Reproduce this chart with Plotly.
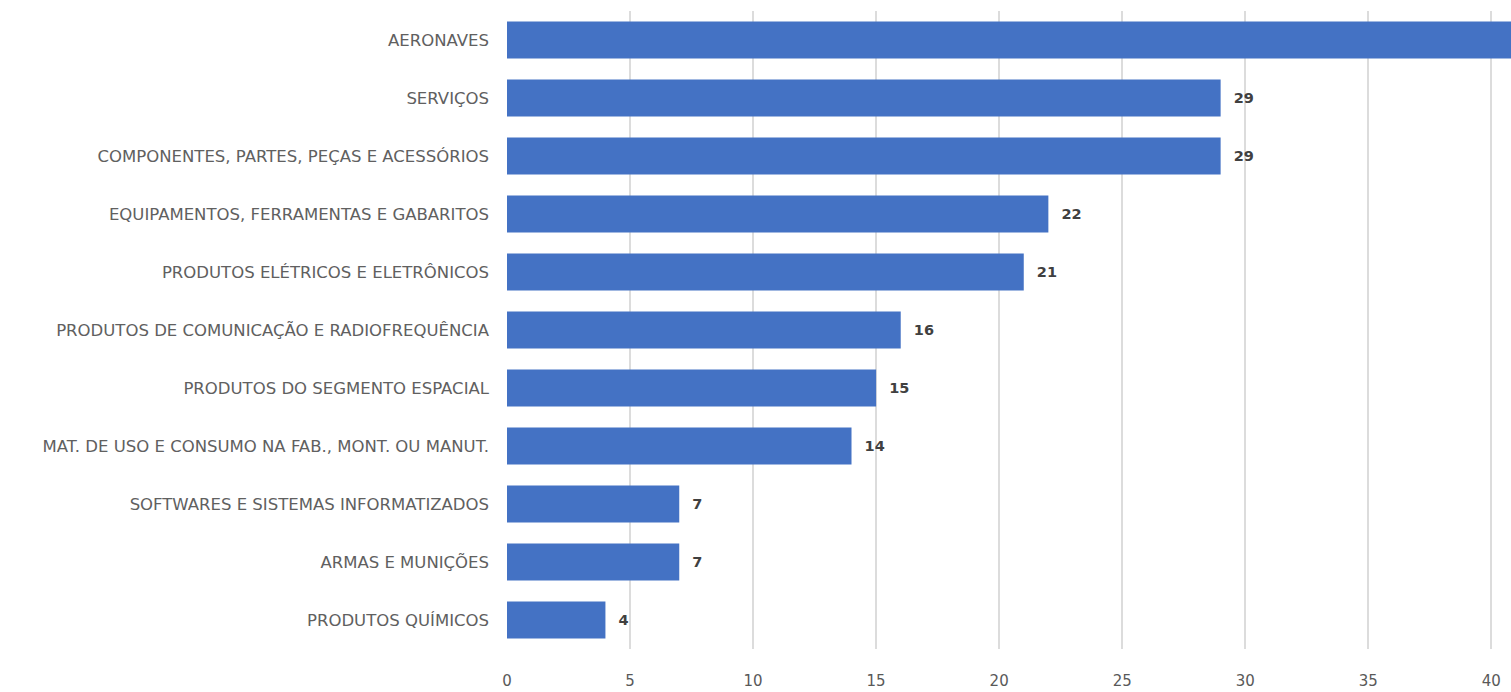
import plotly.graph_objects as go

categories = [
    "AERONAVES",
    "SERVIÇOS",
    "COMPONENTES, PARTES, PEÇAS E ACESSÓRIOS",
    "EQUIPAMENTOS, FERRAMENTAS E GABARITOS",
    "PRODUTOS ELÉTRICOS E ELETRÔNICOS",
    "PRODUTOS DE COMUNICAÇÃO E RADIOFREQUÊNCIA",
    "PRODUTOS DO SEGMENTO ESPACIAL",
    "MAT. DE USO E CONSUMO NA FAB., MONT. OU MANUT.",
    "SOFTWARES E SISTEMAS INFORMATIZADOS",
    "ARMAS E MUNIÇÕES",
    "PRODUTOS QUÍMICOS",
]
values = [42, 29, 29, 22, 21, 16, 15, 14, 7, 7, 4]
x_ticks = [0, 5, 10, 15, 20, 25, 30, 35, 40]
x_max = 40.8

# the first bar runs past the visible axis end, so its label is not shown
labels = ["\u00a0\u00a0" + str(v) if v < x_max - 1 else "" for v in values]

fig = go.Figure(
    go.Bar(
        y=categories,
        x=values,
        orientation="h",
        marker=dict(color="#4472C4", line=dict(width=0)),
        text=labels,
        textposition="outside",
        textfont=dict(family="DejaVu Sans", size=14.5, color="#404040", weight="bold"),
        cliponaxis=True,
        hoverinfo="skip",
    )
)

fig.update_layout(
    width=1511,
    height=692,
    margin=dict(l=507, r=0, t=11, b=43),
    paper_bgcolor="white",
    plot_bgcolor="white",
    bargap=0.36,
    showlegend=False,
    xaxis=dict(
        range=[0, x_max],
        tickvals=x_ticks,
        tickfont=dict(family="DejaVu Sans", size=15, color="#595959"),
        showgrid=True,
        gridcolor="#dcdcdc",
        gridwidth=2,
        zeroline=False,
        showline=False,
        ticks="",
        ticklabelstandoff=21,
    ),
    yaxis=dict(
        categoryorder="array",
        categoryarray=categories[::-1],
        tickfont=dict(family="DejaVu Sans", size=16.5, color="#606060"),
        showgrid=False,
        zeroline=False,
        showline=False,
        ticks="",
        ticklabelstandoff=17,
    ),
)

fig.write_html(
    "out.html",
    config={"displayModeBar": False},
    post_script="document.body.style.margin='0';document.body.style.overflow='hidden';",
)
